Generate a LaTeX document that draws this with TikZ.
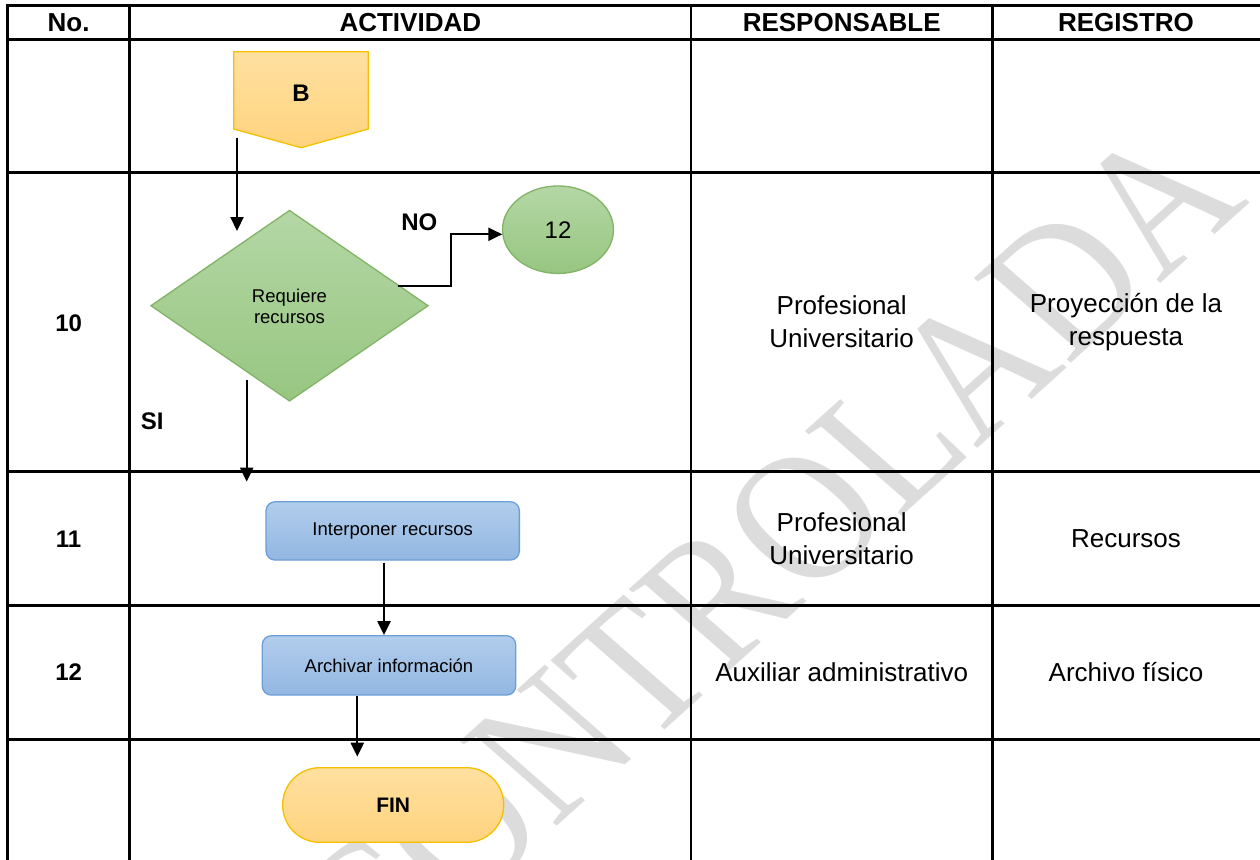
\documentclass[tikz,border=0pt]{standalone}
\usepackage{fontspec}
\setmainfont{Liberation Sans}
\newfontfamily\wmfont{Liberation Serif}
\usetikzlibrary{shapes.geometric,arrows.meta}
\definecolor{ylwTop}{HTML}{FFE0A0}
\definecolor{ylwBot}{HTML}{FFD37E}
\definecolor{ylwLine}{HTML}{F5C000}
\definecolor{grnTop}{HTML}{B4D7A5}
\definecolor{grnBot}{HTML}{97C681}
\definecolor{grnLine}{HTML}{82B366}
\definecolor{bluTop}{HTML}{B2CDEC}
\definecolor{bluBot}{HTML}{92B7E2}
\definecolor{bluLine}{HTML}{6C9FD8}
\definecolor{wmGray}{HTML}{DCDCDC}
\tikzset{
  gridline/.style={line width=2.6pt, black},
  conn/.style={line width=2.2pt, black, -{Triangle[width=13pt,length=14pt]}},
  hdr/.style={inner sep=0pt, font=\bfseries\fontsize{26}{30}\selectfont},
  cell/.style={inner sep=0pt, align=center, font=\fontsize{26}{33}\selectfont},
  rownum/.style={inner sep=0pt, font=\bfseries\fontsize{24}{28}\selectfont},
  lbl/.style={inner sep=0pt, font=\bfseries\fontsize{24}{28}\selectfont},
  smalltxt/.style={inner sep=0pt, align=center, font=\fontsize{18.5}{21}\selectfont},
  yellowfill/.style={top color=ylwTop, bottom color=ylwBot, draw=ylwLine, line width=1.3pt},
  greenfill/.style={top color=grnTop, bottom color=grnBot, draw=grnLine, line width=1.3pt},
  bluebox/.style={rectangle, rounded corners=9pt, top color=bluTop, bottom color=bluBot, draw=bluLine, line width=1.3pt, inner sep=0pt, font=\fontsize{18.5}{21}\selectfont},
}
\begin{document}
\begin{tikzpicture}[x=1pt,y=-1pt]
\useasboundingbox (0,0) rectangle (1260,859);
\fill[white] (0,0) rectangle (1260,859);
% watermark
\begin{scope}[shift={(766,553)}, rotate=42]
\node[transform shape, xslant=-0.12, xscale=0.875, inner sep=0pt, text=wmGray, font=\wmfont\fontsize{195}{195}\selectfont] (wm) at (0,0) {CONTROLADA};
\end{scope}
% table grid
\draw[gridline] (7.5,5.5) -- (1262,5.5);
\draw[gridline] (7.5,39.8) -- (1262,39.8);
\draw[gridline] (7.5,172.5) -- (1262,172.5);
\draw[gridline] (7.5,471.7) -- (1262,471.7);
\draw[gridline] (7.5,605.7) -- (1262,605.7);
\draw[gridline] (7.5,739.3) -- (1262,739.3);
\draw[gridline] (7.5,4.2) -- (7.5,862);
\draw[gridline] (129.7,4.2) -- (129.7,862);
\draw[gridline] (691,4.2) -- (691,862);
\draw[gridline] (992.5,4.2) -- (992.5,862);
% headers
\node[hdr] (hNo) at (68.6,22.5) {No.};
\node[hdr] (hAct) at (410.3,22.5) {ACTIVIDAD};
\node[hdr] (hResp) at (841.7,22.5) {RESPONSABLE};
\node[hdr] (hReg) at (1126,22.5) {REGISTRO};
% row numbers
\node[rownum] (n10) at (68.6,323) {10};
\node[rownum] (n11) at (68.6,539) {11};
\node[rownum] (n12) at (68.6,672) {12};
% responsables
\node[cell] (r10) at (841.7,322) {Profesional\\Universitario};
\node[cell] (r11) at (841.7,538.5) {Profesional\\Universitario};
\node[cell] (r12) at (841.7,672) {Auxiliar administrativo};
% registros
\node[cell] (g10) at (1126,322) {Proyección de la\\respuesta};
\node[cell] (g11) at (1126,539) {Recursos};
\node[cell] (g12) at (1126,672) {Archivo físico};
% off-page connector B
\path[yellowfill] (233.7,51.7) -- (368.3,51.7) -- (368.3,129) -- (301,147.7) -- (233.7,129) -- cycle;
\node[lbl] (B) at (301,93) {B};
% decision
\node[diamond, greenfill, minimum width=277.6pt, minimum height=191pt, inner sep=0pt] (dia) at (289.5,305.7) {};
\node[smalltxt] (diatxt) at (289.5,306.5) {Requiere\\recursos};
% connector 12
\node[ellipse, greenfill, minimum width=111pt, minimum height=87.5pt, inner sep=0pt, font=\fontsize{24}{28}\selectfont] (c12) at (558,229.7) {12};
% process boxes
\node[bluebox, minimum width=253.3pt, minimum height=58.3pt] (ip) at (392.7,530.9) {Interponer recursos};
\node[bluebox, minimum width=253.4pt, minimum height=59.3pt] (ar) at (389,665.4) {Archivar información};
% terminator
\node[rectangle, rounded corners=37pt, yellowfill, minimum width=221pt, minimum height=74.6pt, inner sep=0pt, font=\bfseries\fontsize{21}{24}\selectfont] (fin) at (393.2,805) {FIN};
% labels
\node[lbl] (no) at (419.3,222.3) {NO};
\node[lbl] (si) at (152.3,421) {SI};
% connectors
\coordinate (bOut) at (237,138);
\coordinate (dIn) at (237,231);
\draw[conn] (bOut) -- (dIn);
\coordinate (noStart) at (398.3,286);
\coordinate (noBend) at (451,286);
\coordinate (noEnd) at (502.3,234.3);
\draw[conn] (noStart) -- (noBend) |- (noEnd);
\coordinate (siStart) at (246.7,380);
\coordinate (siEnd) at (246.7,481.7);
\draw[conn] (siStart) -- (siEnd);
\coordinate (a1) at (384,0);
\draw[conn] ([yshift=-2pt]ip.south -| a1) -- (ar.north -| a1);
\coordinate (a2) at (357.3,0);
\coordinate (finIn) at (357.3,756.7);
\draw[conn] (ar.south -| a2) -- (finIn);
\end{tikzpicture}
\end{document}
